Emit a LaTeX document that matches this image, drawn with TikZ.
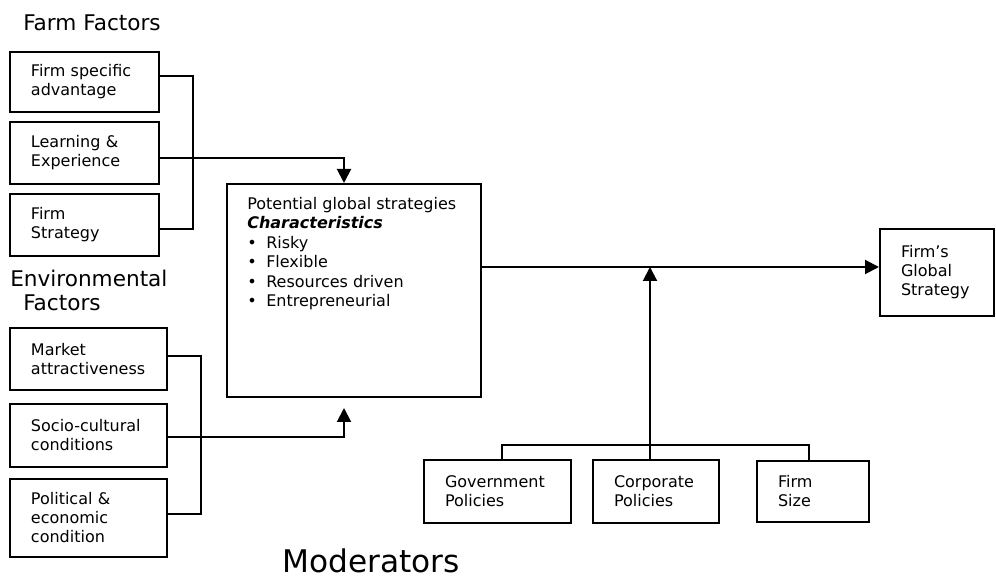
\documentclass[tikz,border=0pt]{standalone}
\usepackage{fontspec}
\setmainfont{DejaVu Sans}
\usetikzlibrary{arrows.meta,calc}

\newcommand{\boxfont}{\fontsize{12pt}{14.25pt}\selectfont}
\newcommand{\listfont}{\fontsize{12pt}{14.55pt}\selectfont}
\newcommand{\headfont}{\fontsize{16.2pt}{18pt}\selectfont}
\newcommand{\bigheadfont}{\fontsize{23.4pt}{26pt}\selectfont}
\newcommand{\itembullet}{\makebox[14.25pt][l]{•}}

\tikzset{
  box/.style={draw, line width=1.5pt, inner xsep=15.75pt, inner ysep=0pt,
    align=left, font=\boxfont},
  conn/.style={line width=1.5pt},
  arr/.style={conn, -{Triangle[length=10.5pt,width=10.5pt]}},
  heading/.style={inner sep=0pt, align=left},
}

\begin{document}
\begin{tikzpicture}[x=0.75pt,y=-0.75pt]
\useasboundingbox (0,0) rectangle (996,580);

% headings
\node[heading, anchor=base west, font=\headfont] (farmhead) at (23,31) {Farm Factors};
\node[heading, anchor=north west, font=\headfont] (envhead) at (10,270)
  {Environmental\\\hspace*{9.75pt}Factors};
\node[heading, anchor=base west, font=\bigheadfont] (modhead) at (282,572) {Moderators};

% farm factors
\node[box, minimum width=111.75pt, minimum height=45pt, text width=80.25pt] (b1) at (84.5,82)
  {Firm specific\\advantage};
\node[box, minimum width=111.75pt, minimum height=46.5pt, text width=80.25pt] (b2) at (84.5,153)
  {Learning \&\\Experience};
\node[box, minimum width=111.75pt, minimum height=46.5pt, text width=80.25pt] (b3) at (84.5,225)
  {Firm\\Strategy};

% environmental factors
\node[box, minimum width=117.75pt, minimum height=46.5pt, text width=86.25pt] (e1) at (88.5,359)
  {Market\\attractiveness};
\node[box, minimum width=117.75pt, minimum height=47.25pt, text width=86.25pt] (e2) at (88.5,435.5)
  {Socio-cultural\\conditions};
\node[box, minimum width=117.75pt, minimum height=58.5pt, text width=86.25pt] (e3) at (88.5,518)
  {Political \&\\economic\\condition};

% central box and its list
\node[draw, line width=1.5pt, minimum width=190.5pt, minimum height=159.75pt, inner sep=0pt]
  (main) at (354,290.5) {};
\node[heading, anchor=north west, font=\listfont] (mainlist) at ($(main.north west)+(21,14)$)
  {Potential global strategies\\
   \textbf{\textit{Characteristics}}\\
   \itembullet Risky\\
   \itembullet Flexible\\
   \itembullet Resources driven\\
   \itembullet Entrepreneurial};

% outcome
\node[box, minimum width=85.5pt, minimum height=65.25pt, text width=54pt] (gs) at (937,272.5)
  {Firm’s\\Global\\Strategy};

% moderators
\node[box, minimum width=110.25pt, minimum height=47.25pt, text width=78.75pt] (gov) at (497.5,491.5)
  {Government\\Policies};
\node[box, minimum width=94.5pt, minimum height=47.25pt, text width=63pt] (corp) at (656,491.5)
  {Corporate\\Policies};
\node[box, minimum width=84pt, minimum height=45.75pt, text width=52.5pt] (size) at (813,491.5)
  {Firm\\Size};

% farm factors into the central box
\draw[conn] ([yshift=4.5pt]b1.east) -- ++(33,0) |- ([yshift=-3pt]b3.east);
\draw[arr] ([yshift=-3.75pt]b2.east) -| ([xshift=-7.5pt]main.north);

% environmental factors into the central box
\draw[conn] ([yshift=2.25pt]e1.east) -- ++(33,0) |- ([yshift=3pt]e3.east);
\draw[arr] ([yshift=-1.125pt]e2.east) -| ([xshift=-7.5pt,yshift=-7.5pt]main.south);

% central box to global strategy
\coordinate (mo) at ([yshift=17.625pt]main.east);
\draw[arr] (mo) -- (mo -| gs.west);

% moderators acting on the main link
\draw[conn] ([xshift=3.375pt]gov.north) -- ++(0,-14) -| ([xshift=-3pt]size.north);
\coordinate (cp) at ([xshift=-4.5pt]corp.north);
\draw[arr] (cp) -- (cp |- mo);

\end{tikzpicture}
\end{document}
